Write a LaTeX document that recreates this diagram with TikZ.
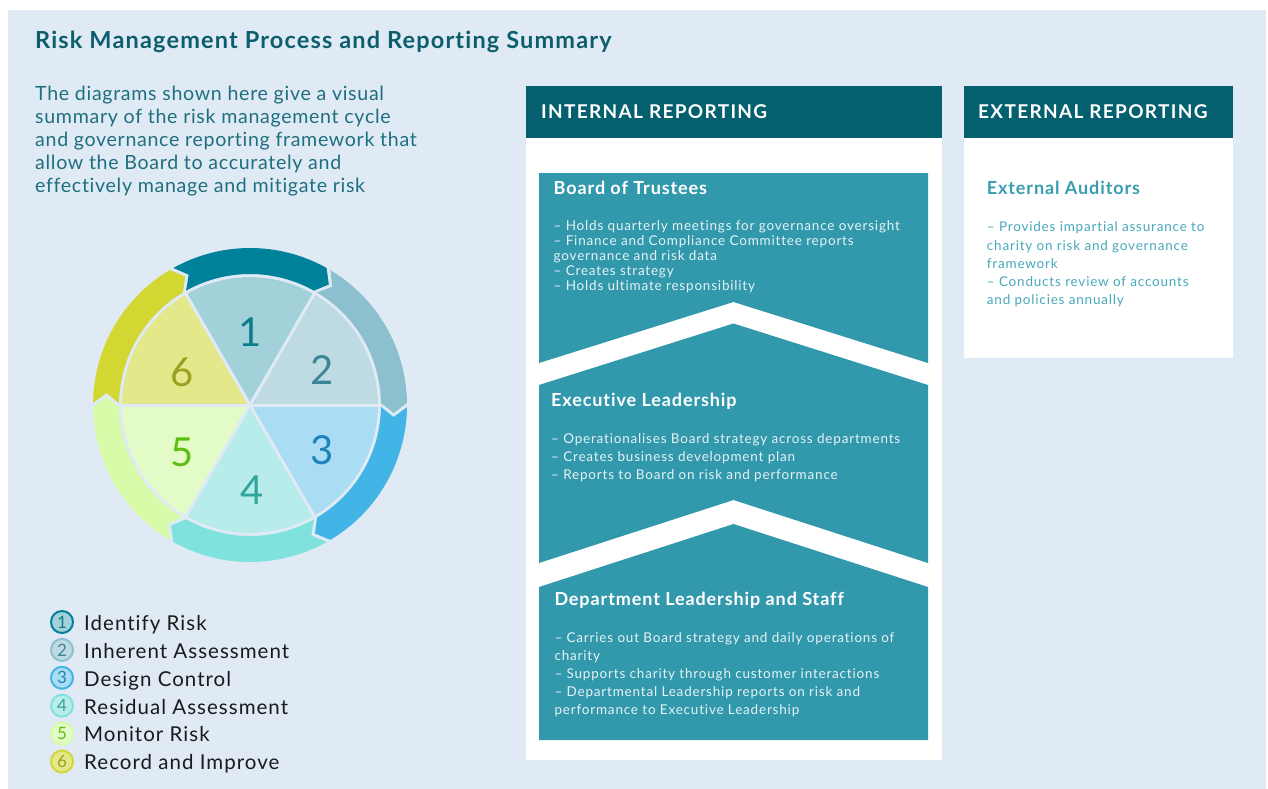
\documentclass[tikz,border=0pt]{standalone}
\usepackage{fontspec}
\setmainfont{Lato}[Ligatures=NoCommon]
\newfontfamily\bodyfont[LetterSpace=6, Ligatures=NoCommon]{Lato}
\newfontfamily\headfont[LetterSpace=5, Ligatures=NoCommon]{Lato}
\newfontfamily\capsfont[LetterSpace=7]{Lato}
\newfontfamily\introfont[LetterSpace=3.5, Ligatures=NoCommon]{Lato}
\usepackage{tikz}
\usetikzlibrary{positioning}
\tikzset{>=latex}
\definecolor{bgblue}{HTML}{DFEAF5}
\definecolor{darkteal}{HTML}{045F6E}
\definecolor{titleteal}{HTML}{0D5E6C}
\definecolor{introteal}{HTML}{1E6F7F}
\definecolor{boxteal}{HTML}{3298AC}
\definecolor{boxtext}{HTML}{E6F3F6}
\definecolor{extteal}{HTML}{3A9DB1}
\definecolor{extbody}{HTML}{48A8BB}
\definecolor{legtext}{HTML}{1A1A1A}
\definecolor{seg1}{HTML}{00819A}\definecolor{wed1}{HTML}{A3D1D9}\definecolor{num1}{HTML}{0E7C8D}
\definecolor{seg2}{HTML}{8CC0CF}\definecolor{wed2}{HTML}{BEDBE3}\definecolor{num2}{HTML}{3C8597}
\definecolor{seg3}{HTML}{43B4E6}\definecolor{wed3}{HTML}{AADCF3}\definecolor{num3}{HTML}{1C83BB}
\definecolor{seg4}{HTML}{80E2DD}\definecolor{wed4}{HTML}{B7ECEA}\definecolor{num4}{HTML}{2FA59B}
\definecolor{seg5}{HTML}{D8FBA9}\definecolor{wed5}{HTML}{E3FCC7}\definecolor{num5}{HTML}{5DBF10}
\definecolor{seg6}{HTML}{D2D732}\definecolor{wed6}{HTML}{E3E98A}\definecolor{num6}{HTML}{9AA021}
\tikzset{
    basetext/.style={anchor=base west, inner sep=0, align=left},
    headtext/.style={basetext, text=white, font=\capsfont\bfseries\fontsize{19}{19}\selectfont},
    boxhead/.style={basetext, text=white, font=\headfont\bfseries\fontsize{18}{18}\selectfont},
    boxbody/.style={basetext, text=boxtext, font=\bodyfont\fontsize{13.5}{15}\selectfont},
    bignum/.style={inner sep=0, font=\fontsize{40}{40}\selectfont},
    legdot/.style={circle, line width=2, minimum size=22, inner sep=0, font=\fontsize{17}{17}\selectfont},
    legname/.style={basetext, text=legtext, font=\headfont\fontsize{20.5}{20}\selectfont}
}
\begin{document}
\begin{tikzpicture}[x=1pt, y=1pt]
    \useasboundingbox(0, 0)rectangle(1268, -789);
    \fill[white](0, 0)rectangle(1268, -789);
    \fill[bgblue](8, -10)rectangle(1266, -789);
    \node[basetext, text=titleteal, font=\headfont\bfseries\fontsize{23.5}{23}\selectfont](title) at(35, -48.3){Risk Management Process and Reporting Summary};
    \node[basetext, text=introteal, font=\introfont\fontsize{19.6}{23}\selectfont](intro) at(35, -192.7){The diagrams shown here give a visual\\summary of the risk management cycle\\and governance reporting framework that\\allow the Board to accurately and\\effectively manage and mitigate risk};
    \begin{scope}[shift={(250, -405)}]
        \foreach \a/\c in {120/seg1, 60/seg2, 0/seg3, -60/seg4, -120/seg5, 180/seg6}
            \fill[\c](\a-0.8:157)arc[start angle=\a-0.8, end angle=\a-59.2, radius=157]--(\a-63.2:144)--(\a-59.2:131)
                arc[start angle=\a-59.2, end angle=\a-0.8, radius=131]--(\a-4.8:144)--cycle;
        \foreach \a/\c in {60/wed1, 0/wed2, -60/wed3, -120/wed4, 180/wed5, 120/wed6}
            \fill[\c](0, 0)--(\a:128)arc[start angle=\a, end angle=\a+60, radius=128]--cycle;
        \foreach \a in {0, 60, ..., 300}
            \draw[bgblue, line width=3](0, 0)--(\a:129);
        \draw[bgblue, line width=2](0, 0)circle[radius=129];
    \end{scope}
    \foreach \i/\x/\y in {1/250/332, 2/322/370, 3/322/450, 4/252/490, 5/182/452, 6/182/372}
        \node[bignum, text=num\i](n\i) at(\x, -\y){\i};
    \foreach \i/\txt in {1/Identify Risk, 2/Inherent Assessment, 3/Design Control, 4/Residual Assessment, 5/Monitor Risk, 6/Record and Improve}{
        \node[legdot, fill=wed\i, draw=seg\i, text=num\i](dot\i) at(62, {-622-27.9*(\i-1)}){\i};
        \node[legname](leg\i) at(84, {-630.3-27.9*(\i-1)}){\txt};
    }
    \fill[white](526, -86)rectangle(942, -759.5);
    \fill[darkteal](526, -86)rectangle(942, -138);
    \node[headtext](inthead) at(541, -118.8){INTERNAL REPORTING};
    \fill[boxteal](539, -173)--(928, -173)--(928, -363)--(733.5, -302)--(539, -363)--cycle;
    \fill[boxteal](539, -385)--(733.5, -323.5)--(928, -385)--(928, -563)--(733.5, -500)--(539, -563)--cycle;
    \fill[boxteal](539, -587)--(733.5, -524)--(928, -587)--(928, -740)--(539, -740)--cycle;
    \node[boxhead](board) at(553.5, -194.3){Board of Trustees};
    \node[boxbody](boardtxt) at(553.5, -290.7){– Holds quarterly meetings for governance oversight\\– Finance and Compliance Committee reports\\governance and risk data\\– Creates strategy\\– Holds ultimate responsibility};
    \node[boxhead](exec) at(551, -406){Executive Leadership};
    \node[boxbody, font=\bodyfont\fontsize{13.5}{18.3}\selectfont](exectxt) at(551, -479.9){– Operationalises Board strategy across departments\\– Creates business development plan\\– Reports to Board on risk and performance};
    \node[boxhead](dept) at(554.3, -605.7){Department Leadership and Staff};
    \node[boxbody, font=\bodyfont\fontsize{13.5}{18}\selectfont](depttxt) at(554.3, -714.7){– Carries out Board strategy and daily operations of\\charity\\– Supports charity through customer interactions\\– Departmental Leadership reports on risk and\\performance to Executive Leadership};
    \fill[white](964, -86)rectangle(1233, -358);
    \fill[darkteal](964, -86)rectangle(1233, -138);
    \node[headtext](exthead) at(978, -118.8){EXTERNAL REPORTING};
    \node[boxhead, text=extteal](audit) at(986.7, -194.3){External Auditors};
    \node[boxbody, text=extbody, font=\bodyfont\fontsize{13.5}{18.3}\selectfont](audittxt) at(986.7, -304.9){– Provides impartial assurance to\\charity on risk and governance\\framework\\– Conducts review of accounts\\and policies annually};
\end{tikzpicture}
\end{document}
